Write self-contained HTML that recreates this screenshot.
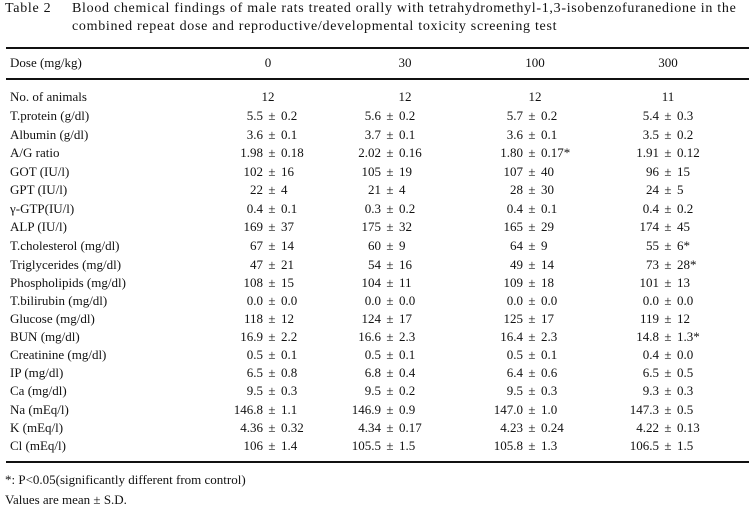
<!DOCTYPE html>
<html><head><meta charset="utf-8"><style>
body{margin:0;background:#fff;}
#w{position:relative;width:750px;height:515px;overflow:hidden;font-family:"Liberation Serif","Noto Serif CJK SC",serif;font-size:13px;color:#111;}
.t{position:absolute;white-space:nowrap;line-height:18px;}
.tt{font-size:14px;letter-spacing:0.7px;}
.h{position:absolute;height:2px;background:#111;left:6px;width:743px;}
.r{position:absolute;left:0;width:750px;height:18px;line-height:18px;}
.r .lab{position:absolute;left:10px;white-space:nowrap;}
.c{position:absolute;width:120px;display:flex;white-space:nowrap;}
.c b{font-weight:normal;width:51px;text-align:right;}
.c i{font-style:normal;width:18px;text-align:center;}
.c u{text-decoration:none;width:51px;text-align:left;}
.n{position:absolute;width:40px;text-align:center;}
.k0{left:212px}.k1{left:330px}.k2{left:472px}.k3{left:608px}
.n0{left:248px}.n1{left:385px}.n2{left:515px}.n3{left:648px}
</style></head><body><div id="w">
<div class="t tt" style="left:5px;top:0">Table 2</div>
<div class="t tt" style="left:72px;top:0">Blood chemical findings of male rats treated orally with tetrahydromethyl-1,3-isobenzofuranedione in the</div>
<div class="t tt" style="left:72px;top:18px">combined repeat dose and reproductive/developmental toxicity screening test</div>
<div class="h" style="top:47px"></div>
<div class="r" style="top:54px"><span class="lab">Dose (mg/kg)</span><span class="n n0">0</span><span class="n n1">30</span><span class="n n2">100</span><span class="n n3">300</span></div>
<div class="h" style="top:78px"></div>
<div class="r" style="top:88px"><span class="lab">No. of animals</span><span class="n n0">12</span><span class="n n1">12</span><span class="n n2">12</span><span class="n n3">11</span></div>
<div class="r" style="top:107px"><span class="lab">T.protein (g/dl)</span><span class="c k0"><b>5.5</b><i>±</i><u>0.2</u></span><span class="c k1"><b>5.6</b><i>±</i><u>0.2</u></span><span class="c k2"><b>5.7</b><i>±</i><u>0.2</u></span><span class="c k3"><b>5.4</b><i>±</i><u>0.3</u></span></div>
<div class="r" style="top:126px"><span class="lab">Albumin (g/dl)</span><span class="c k0"><b>3.6</b><i>±</i><u>0.1</u></span><span class="c k1"><b>3.7</b><i>±</i><u>0.1</u></span><span class="c k2"><b>3.6</b><i>±</i><u>0.1</u></span><span class="c k3"><b>3.5</b><i>±</i><u>0.2</u></span></div>
<div class="r" style="top:144px"><span class="lab">A/G ratio</span><span class="c k0"><b>1.98</b><i>±</i><u>0.18</u></span><span class="c k1"><b>2.02</b><i>±</i><u>0.16</u></span><span class="c k2"><b>1.80</b><i>±</i><u>0.17*</u></span><span class="c k3"><b>1.91</b><i>±</i><u>0.12</u></span></div>
<div class="r" style="top:163px"><span class="lab">GOT (IU/l)</span><span class="c k0"><b>102</b><i>±</i><u>16</u></span><span class="c k1"><b>105</b><i>±</i><u>19</u></span><span class="c k2"><b>107</b><i>±</i><u>40</u></span><span class="c k3"><b>96</b><i>±</i><u>15</u></span></div>
<div class="r" style="top:181px"><span class="lab">GPT (IU/l)</span><span class="c k0"><b>22</b><i>±</i><u>4</u></span><span class="c k1"><b>21</b><i>±</i><u>4</u></span><span class="c k2"><b>28</b><i>±</i><u>30</u></span><span class="c k3"><b>24</b><i>±</i><u>5</u></span></div>
<div class="r" style="top:200px"><span class="lab">γ-GTP(IU/l)</span><span class="c k0"><b>0.4</b><i>±</i><u>0.1</u></span><span class="c k1"><b>0.3</b><i>±</i><u>0.2</u></span><span class="c k2"><b>0.4</b><i>±</i><u>0.1</u></span><span class="c k3"><b>0.4</b><i>±</i><u>0.2</u></span></div>
<div class="r" style="top:218px"><span class="lab">ALP (IU/l)</span><span class="c k0"><b>169</b><i>±</i><u>37</u></span><span class="c k1"><b>175</b><i>±</i><u>32</u></span><span class="c k2"><b>165</b><i>±</i><u>29</u></span><span class="c k3"><b>174</b><i>±</i><u>45</u></span></div>
<div class="r" style="top:237px"><span class="lab">T.cholesterol (mg/dl)</span><span class="c k0"><b>67</b><i>±</i><u>14</u></span><span class="c k1"><b>60</b><i>±</i><u>9</u></span><span class="c k2"><b>64</b><i>±</i><u>9</u></span><span class="c k3"><b>55</b><i>±</i><u>6*</u></span></div>
<div class="r" style="top:256px"><span class="lab">Triglycerides (mg/dl)</span><span class="c k0"><b>47</b><i>±</i><u>21</u></span><span class="c k1"><b>54</b><i>±</i><u>16</u></span><span class="c k2"><b>49</b><i>±</i><u>14</u></span><span class="c k3"><b>73</b><i>±</i><u>28*</u></span></div>
<div class="r" style="top:274px"><span class="lab">Phospholipids (mg/dl)</span><span class="c k0"><b>108</b><i>±</i><u>15</u></span><span class="c k1"><b>104</b><i>±</i><u>11</u></span><span class="c k2"><b>109</b><i>±</i><u>18</u></span><span class="c k3"><b>101</b><i>±</i><u>13</u></span></div>
<div class="r" style="top:292px"><span class="lab">T.bilirubin (mg/dl)</span><span class="c k0"><b>0.0</b><i>±</i><u>0.0</u></span><span class="c k1"><b>0.0</b><i>±</i><u>0.0</u></span><span class="c k2"><b>0.0</b><i>±</i><u>0.0</u></span><span class="c k3"><b>0.0</b><i>±</i><u>0.0</u></span></div>
<div class="r" style="top:310px"><span class="lab">Glucose (mg/dl)</span><span class="c k0"><b>118</b><i>±</i><u>12</u></span><span class="c k1"><b>124</b><i>±</i><u>17</u></span><span class="c k2"><b>125</b><i>±</i><u>17</u></span><span class="c k3"><b>119</b><i>±</i><u>12</u></span></div>
<div class="r" style="top:328px"><span class="lab">BUN (mg/dl)</span><span class="c k0"><b>16.9</b><i>±</i><u>2.2</u></span><span class="c k1"><b>16.6</b><i>±</i><u>2.3</u></span><span class="c k2"><b>16.4</b><i>±</i><u>2.3</u></span><span class="c k3"><b>14.8</b><i>±</i><u>1.3*</u></span></div>
<div class="r" style="top:346px"><span class="lab">Creatinine (mg/dl)</span><span class="c k0"><b>0.5</b><i>±</i><u>0.1</u></span><span class="c k1"><b>0.5</b><i>±</i><u>0.1</u></span><span class="c k2"><b>0.5</b><i>±</i><u>0.1</u></span><span class="c k3"><b>0.4</b><i>±</i><u>0.0</u></span></div>
<div class="r" style="top:364px"><span class="lab">IP (mg/dl)</span><span class="c k0"><b>6.5</b><i>±</i><u>0.8</u></span><span class="c k1"><b>6.8</b><i>±</i><u>0.4</u></span><span class="c k2"><b>6.4</b><i>±</i><u>0.6</u></span><span class="c k3"><b>6.5</b><i>±</i><u>0.5</u></span></div>
<div class="r" style="top:382px"><span class="lab">Ca (mg/dl)</span><span class="c k0"><b>9.5</b><i>±</i><u>0.3</u></span><span class="c k1"><b>9.5</b><i>±</i><u>0.2</u></span><span class="c k2"><b>9.5</b><i>±</i><u>0.3</u></span><span class="c k3"><b>9.3</b><i>±</i><u>0.3</u></span></div>
<div class="r" style="top:401px"><span class="lab">Na (mEq/l)</span><span class="c k0"><b>146.8</b><i>±</i><u>1.1</u></span><span class="c k1"><b>146.9</b><i>±</i><u>0.9</u></span><span class="c k2"><b>147.0</b><i>±</i><u>1.0</u></span><span class="c k3"><b>147.3</b><i>±</i><u>0.5</u></span></div>
<div class="r" style="top:419px"><span class="lab">K (mEq/l)</span><span class="c k0"><b>4.36</b><i>±</i><u>0.32</u></span><span class="c k1"><b>4.34</b><i>±</i><u>0.17</u></span><span class="c k2"><b>4.23</b><i>±</i><u>0.24</u></span><span class="c k3"><b>4.22</b><i>±</i><u>0.13</u></span></div>
<div class="r" style="top:437px"><span class="lab">Cl (mEq/l)</span><span class="c k0"><b>106</b><i>±</i><u>1.4</u></span><span class="c k1"><b>105.5</b><i>±</i><u>1.5</u></span><span class="c k2"><b>105.8</b><i>±</i><u>1.3</u></span><span class="c k3"><b>106.5</b><i>±</i><u>1.5</u></span></div>
<div class="h" style="top:461px"></div>
<div class="t" style="left:5px;top:471px">*: P&lt;0.05(significantly different from control)</div>
<div class="t" style="left:5px;top:491px">Values are mean ± S.D.</div>
</div></body></html>
